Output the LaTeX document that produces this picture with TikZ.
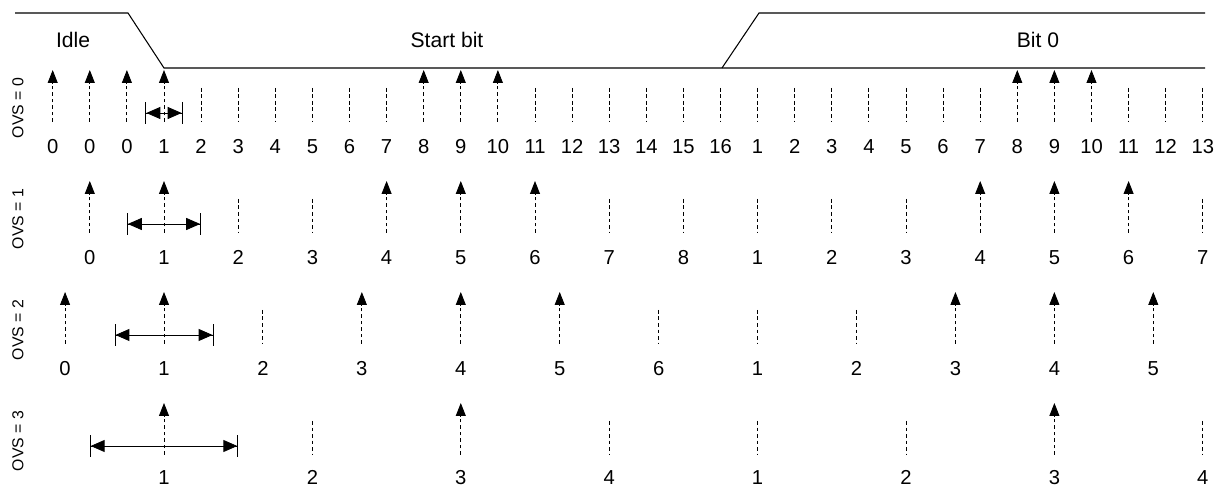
\documentclass[tikz,border=0pt]{standalone}
\usepackage{fontspec}
\setmainfont{Liberation Sans}
\usetikzlibrary{arrows.meta}

\begin{document}
\begin{tikzpicture}[
    x=0.02cm, y=-0.02cm,
    wave/.style={line width=0.6pt},
    tck/.style={line width=0.5pt, dash pattern=on 2.2pt off 1.5pt},
    smp/.style={tck, -{Triangle[length=0.26cm, width=0.2cm]}},
    span/.style={line width=0.5pt,
      {Bar[width=0.44cm]Triangle[length=0.28cm, width=0.24cm]}-{Triangle[length=0.28cm, width=0.24cm]Bar[width=0.44cm]}},
    num/.style={font=\fontsize{11.5}{13}\selectfont, text height=8.2pt, text depth=0pt, inner sep=1pt},
    lbl/.style={font=\fontsize{12}{14}\selectfont},
    ovs/.style={font=\fontsize{9}{11}\selectfont, rotate=90},
  ]
  \useasboundingbox (0,0) rectangle (1225,486);

  % ---- line state: idle, start bit, bit 0 ----
  \draw[wave] (15,13) -- (128,13) -- (164,68) -- (1205,68);
  \draw[wave] (722,68) -- (759,13) -- (1205,13);
  \node[lbl] (idle) at (73,40) {Idle};
  \node[lbl] (start) at (447,40) {Start bit};
  \node[lbl] (bit0) at (1038,40) {Bit 0};

  % ---- OVS = 0 ----
  \node[ovs] (ovs0) at (18,108) {OVS = 0};
  \foreach \lab [count=\j from -3] in {0,0,0,1,2,...,16,1,2,...,13}
    \node[num] (n0-\j) at ({164+\j*37.1},146) {\lab};
  \foreach \j in {1,...,6,10,11,...,22,26,27,28}
    \draw[tck] ({164+\j*37.1},88) -- ++(0,34);
  \foreach \j in {-3,-2,-1,0,7,8,9,23,24,25}
    \draw[smp] ({164+\j*37.1},122) -- ++(0,-52);
  \draw[span] (145.45,113) -- (182.55,113);

  % ---- OVS = 1 ----
  \node[ovs] (ovs1) at (18,219) {OVS = 1};
  \foreach \lab [count=\j from -1] in {0,1,2,...,8,1,2,...,7}
    \node[num] (n1-\j) at ({164+\j*74.2},257) {\lab};
  \foreach \j in {1,2,6,7,8,9,10,14}
    \draw[tck] ({164+\j*74.2},199) -- ++(0,34);
  \foreach \j in {-1,0,3,4,5,11,12,13}
    \draw[smp] ({164+\j*74.2},233) -- ++(0,-52);
  \draw[span] (126.9,224) -- (201.1,224);

  % ---- OVS = 2 ----
  \node[ovs] (ovs2) at (18,330) {OVS = 2};
  \foreach \lab [count=\j from -1] in {0,1,2,...,6,1,2,...,5}
    \node[num] (n2-\j) at ({164+\j*98.93},368) {\lab};
  \foreach \j in {1,5,6,7}
    \draw[tck] ({164+\j*98.93},310) -- ++(0,34);
  \foreach \j in {-1,0,2,3,4,8,9,10}
    \draw[smp] ({164+\j*98.93},344) -- ++(0,-52);
  \draw[span] (114.53,335) -- (213.47,335);

  % ---- OVS = 3 ----
  \node[ovs] (ovs3) at (18,441) {OVS = 3};
  \foreach \lab [count=\j from 0] in {1,2,3,4,1,2,3,4}
    \node[num] (n3-\j) at ({164+\j*148.4},477) {\lab};
  \foreach \j in {1,3,4,5,7}
    \draw[tck] ({164+\j*148.4},421) -- ++(0,34);
  \foreach \j in {0,2,6}
    \draw[smp] ({164+\j*148.4},455) -- ++(0,-52);
  \draw[span] (89.8,446) -- (238.2,446);

\end{tikzpicture}
\end{document}
